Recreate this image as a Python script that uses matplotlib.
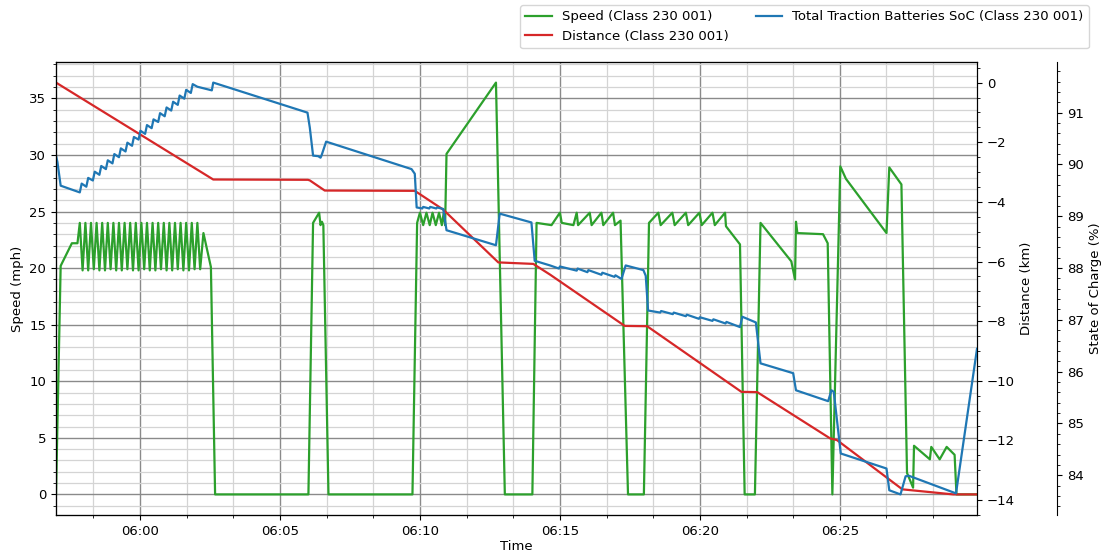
import matplotlib
matplotlib.use("Agg")
import matplotlib.pyplot as plt
import matplotlib.dates as mdates
from matplotlib.ticker import AutoMinorLocator, MultipleLocator
import pandas as pd

plt.rcParams['font.family'] = ['DejaVu Sans']
plt.rcParams['font.size'] = 9.5

DAY = "2023-01-01 "

speed_time = [
    "05:57:00", "05:57:10", "05:57:34", "05:57:46", "05:57:51", "05:57:57",
    "05:58:03", "05:58:09", "05:58:15", "05:58:21", "05:58:27", "05:58:33",
    "05:58:39", "05:58:45", "05:58:51", "05:58:57", "05:59:03", "05:59:09",
    "05:59:15", "05:59:21", "05:59:27", "05:59:33", "05:59:39", "05:59:45",
    "05:59:51", "05:59:57", "06:00:03", "06:00:09", "06:00:15", "06:00:21",
    "06:00:27", "06:00:33", "06:00:39", "06:00:45", "06:00:51", "06:00:57",
    "06:01:03", "06:01:09", "06:01:15", "06:01:21", "06:01:27", "06:01:33",
    "06:01:39", "06:01:45", "06:01:51", "06:01:57", "06:02:03", "06:02:09",
    "06:02:16", "06:02:32", "06:02:41",
    "06:06:01", "06:06:11", "06:06:24", "06:06:27", "06:06:30", "06:06:33",
    "06:06:44",
    "06:09:44", "06:09:54", "06:10:00", "06:10:07", "06:10:14", "06:10:21",
    "06:10:27", "06:10:34", "06:10:41", "06:10:47", "06:10:51", "06:10:54",
    "06:10:57", "06:12:43", "06:13:02",
    "06:14:01", "06:14:10", "06:14:42", "06:15:00", "06:15:04", "06:15:29",
    "06:15:36", "06:15:39", "06:16:04", "06:16:08", "06:16:29", "06:16:33",
    "06:16:54", "06:16:58", "06:17:10", "06:17:26",
    "06:18:00", "06:18:11", "06:18:31", "06:18:36", "06:19:01", "06:19:06",
    "06:19:30", "06:19:35", "06:19:59", "06:20:04", "06:20:27", "06:20:32",
    "06:20:54", "06:20:56", "06:21:26", "06:21:36",
    "06:21:58", "06:22:10", "06:23:16", "06:23:24", "06:23:26", "06:23:29",
    "06:24:24", "06:24:34", "06:24:44", "06:25:01", "06:25:13", "06:26:40",
    "06:26:46", "06:27:12", "06:27:24", "06:27:37", "06:27:39", "06:28:13",
    "06:28:16", "06:28:34", "06:28:49", "06:29:06", "06:29:10", "06:29:54",
]
speed_mph = [
    0, 20.2, 22.2, 22.2, 24.0, 19.8,
    24.0, 19.8, 24.0, 19.9, 24.0, 19.8,
    24.0, 19.8, 24.0, 19.9, 24.0, 19.8,
    24.0, 19.8, 24.0, 19.9, 24.0, 19.8,
    24.0, 19.8, 24.0, 19.9, 24.0, 19.8,
    24.0, 19.8, 24.0, 19.9, 24.0, 19.8,
    24.0, 19.8, 24.0, 19.9, 24.0, 19.8,
    24.0, 19.8, 24.0, 19.9, 24.0, 19.9,
    23.1, 20.1, 0,
    0, 24.0, 24.9, 23.8, 24.1, 23.8,
    0,
    0, 24.0, 24.9, 23.8, 24.9, 23.8,
    24.9, 23.8, 24.9, 23.8, 24.9, 23.8,
    30.1, 36.4, 0,
    0, 24.0, 23.8, 24.9, 24.0, 23.8,
    24.9, 23.8, 24.9, 23.8, 24.9, 23.8,
    24.9, 23.8, 24.2, 0,
    0, 24.0, 24.9, 23.8, 24.9, 23.8,
    24.9, 23.8, 24.9, 23.8, 24.9, 23.8,
    24.9, 23.7, 22.1, 0,
    0, 24.0, 20.6, 19.0, 24.1, 23.1,
    23.0, 22.2, 0, 29.0, 27.9, 23.1,
    28.9, 27.4, 1.9, 0.6, 4.3, 3.1,
    4.2, 3.1, 4.2, 3.5, 0, 0,
]

dist_time = [
    "05:57:00", "06:02:37", "06:06:00", "06:06:04", "06:06:36", "06:09:49",
    "06:10:50", "06:12:48", "06:14:03", "06:14:39", "06:17:19", "06:18:07",
    "06:21:29", "06:22:03", "06:22:09", "06:24:39", "06:24:54", "06:27:14",
    "06:29:03", "06:29:54",
]
dist_km = [
    0.0, -3.25, -3.26, -3.28, -3.62, -3.63,
    -4.26, -6.03, -6.08, -6.44, -8.16, -8.17,
    -10.37, -10.38, -10.44, -11.93, -11.99, -13.64,
    -13.81, -13.81,
]

soc_time = [
    "05:57:00", "05:57:03", "05:57:10", "05:57:51",
    "05:57:55", "05:58:05", "05:58:09", "05:58:19", "05:58:23", "05:58:33",
    "05:58:37", "05:58:47", "05:58:51", "05:59:01", "05:59:05", "05:59:15",
    "05:59:19", "05:59:29", "05:59:33", "05:59:43", "05:59:47", "05:59:57",
    "06:00:01", "06:00:11", "06:00:15", "06:00:25", "06:00:29", "06:00:39",
    "06:00:43", "06:00:53", "06:00:57", "06:01:07", "06:01:11", "06:01:21",
    "06:01:25", "06:01:35", "06:01:39", "06:01:49", "06:01:53", "06:02:03",
    "06:02:34", "06:02:37",
    "06:05:59", "06:06:04", "06:06:11", "06:06:22", "06:06:27", "06:06:29",
    "06:06:39", "06:09:42", "06:09:49", "06:09:53",
    "06:10:05", "06:10:07", "06:10:20", "06:10:22", "06:10:35", "06:10:37",
    "06:10:50", "06:10:57", "06:12:43", "06:12:51", "06:13:59", "06:14:06",
    "06:14:39", "06:14:58", "06:15:00", "06:15:36", "06:15:38", "06:15:59",
    "06:16:01", "06:16:29", "06:16:31", "06:16:57", "06:16:59", "06:17:12",
    "06:17:21", "06:17:59", "06:18:04", "06:18:09",
    "06:18:35", "06:18:37", "06:19:02", "06:19:04", "06:19:30", "06:19:32",
    "06:19:58", "06:20:00", "06:20:27", "06:20:29", "06:20:55", "06:20:57",
    "06:21:26", "06:21:31", "06:22:00", "06:22:10",
    "06:23:20", "06:23:26", "06:24:35", "06:24:42", "06:24:47", "06:25:02",
    "06:26:40", "06:26:46", "06:27:10", "06:27:21", "06:27:28", "06:29:09",
    "06:29:54",
]
soc_pct = [
    90.17, 90.05, 89.59, 89.46,
    89.63, 89.57, 89.74, 89.69, 89.86, 89.80,
    89.97, 89.91, 90.08, 90.02, 90.20, 90.14,
    90.31, 90.25, 90.42, 90.36, 90.53, 90.48,
    90.65, 90.59, 90.76, 90.70, 90.87, 90.82,
    90.99, 90.93, 91.10, 91.04, 91.21, 91.15,
    91.33, 91.27, 91.44, 91.38, 91.55, 91.50,
    91.43, 91.58,
    91.00, 90.71, 90.17, 90.16, 90.13, 90.17,
    90.44, 89.91, 89.82, 89.17,
    89.15, 89.18, 89.15, 89.18, 89.15, 89.17,
    89.14, 88.73, 88.44, 89.05, 88.88, 88.14,
    88.05, 87.99, 88.03, 87.95, 87.99, 87.92,
    87.96, 87.87, 87.91, 87.83, 87.86, 87.79,
    88.05, 87.96, 87.85, 87.18,
    87.14, 87.17, 87.11, 87.14, 87.07, 87.10,
    87.02, 87.05, 86.98, 87.01, 86.93, 86.96,
    86.86, 87.06, 86.95, 86.16,
    85.97, 85.64, 85.43, 85.64, 85.61, 84.42,
    84.13, 83.71, 83.63, 83.98, 83.99, 83.65,
    86.44,
]

label_speed = "Speed (Class 230 001)"
label_dist = "Distance (Class 230 001)"
label_soc = "Total Traction Batteries SoC (Class 230 001)"

ts = pd.to_datetime([DAY + t for t in speed_time])
td = pd.to_datetime([DAY + t for t in dist_time])
tc = pd.to_datetime([DAY + t for t in soc_time])

W, H = 1104, 555
fig = plt.figure(figsize=(W / 100, H / 100), dpi=100)
ax = fig.add_axes([56 / W, 1 - 515 / H, (977 - 56) / W, (515 - 62) / H])
ax2 = ax.twinx()
ax3 = ax.twinx()
ax3.spines['right'].set_position(('outward', 80 * 72 / 100))

l1, = ax.plot(ts, speed_mph, color='#2ca02c', lw=1.6, label=label_speed)
l2, = ax2.plot(td, dist_km, color='#d62728', lw=1.6, label=label_dist)
l3, = ax3.plot(tc, soc_pct, color='#1f77b4', lw=1.6, label=label_soc)

ax.set_xlim(ts[0], ts[-1])
ax.xaxis.set_major_locator(mdates.MinuteLocator(byminute=range(0, 60, 5)))
ax.xaxis.set_major_formatter(mdates.DateFormatter('%H:%M'))
ax.xaxis.set_minor_locator(MultipleLocator(100 / 86400))
for a in (ax, ax2, ax3):
    a.yaxis.set_minor_locator(AutoMinorLocator())

ax.grid(which='major', color='#8a8a8a', lw=1.0)
ax.grid(which='minor', color='#d4d4d4', lw=0.9)
ax.set_axisbelow(True)

ax.set_xlabel('Time', labelpad=2)
ax.set_ylabel('Speed (mph)')
ax2.set_ylabel('Distance (km)')
ax3.set_ylabel('State of Charge (%)')

fig.legend(handles=[l1, l2, l3], loc='upper right', ncol=2,
           bbox_to_anchor=(1089 / W, 1 - 5 / H), borderaxespad=0,
           fontsize=9.5, columnspacing=2.0)

fig.savefig('out.png', dpi=100)
